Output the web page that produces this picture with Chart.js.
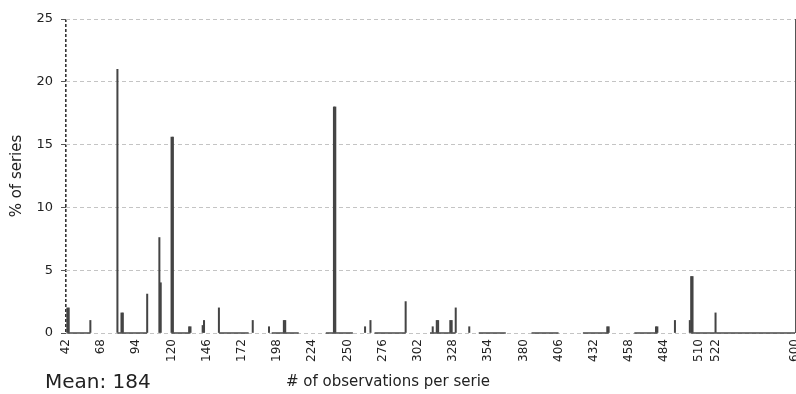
<!DOCTYPE html>
<html>
<head>
<meta charset="utf-8">
<script src="https://cdn.jsdelivr.net/npm/chart.js@4.4.0/dist/chart.umd.min.js"></script>
<style>
  html, body { margin: 0; padding: 0; background: #fff; }
  canvas { display: block; }
</style>
</head>
<body>
<canvas id="histo" width="796" height="394"></canvas>
<script>
// observações por série -> % de séries
const obsCounts = [43, 44, 60, 80, 83, 84, 102, 111, 112, 120, 121, 133, 134, 143, 144, 155, 180, 192, 203, 204,
                   240, 241, 263, 267, 293, 313, 316, 317, 326, 327, 330, 340, 442, 443, 478, 479, 492, 503, 504, 505, 522];
const pctSeries = [2.0, 2.0, 1.0, 21.0, 1.6, 1.6, 3.1, 7.6, 4.0, 15.6, 15.6, 0.5, 0.5, 0.6, 1.0, 2.0, 1.0, 0.5, 1.0, 1.0,
                   18.0, 18.0, 0.5, 1.0, 2.5, 0.5, 1.0, 1.0, 1.0, 1.0, 2.0, 0.5, 0.5, 0.5, 0.5, 0.5, 1.0, 1.0, 4.5, 4.5, 1.6];

// trechos em zero desenhados na linha de base
const zeroRunStart = [43, 80, 120, 155, 194, 234, 270, 311, 347, 386, 424, 462, 504, 522];
const zeroRunEnd   = [60, 102, 134, 177, 214, 254, 293, 330, 367, 406, 443, 479, 522, 600];

const xTicks = [42, 68, 94, 120, 146, 172, 198, 224, 250, 276, 302, 328, 354, 380, 406, 432, 458, 484, 510, 522, 600];
const yTicks = [0, 5, 10, 15, 20, 25];

const xTitle = '# of observations per serie';
const yTitle = '% of series';
const meanLabel = 'Mean: 184';

// eixo linear com a cauda (depois do breakValue) comprimida
class BrokenLinearScale extends Chart.LinearScale {
  getPixelForValue(value) {
    const b = this.options.breakValue, f = this.options.breakFraction;
    const d = value <= b
      ? (value - this.min) / (b - this.min) * f
      : f + (value - b) / (this.max - b) * (1 - f);
    return this.getPixelForDecimal(d);
  }
  getValueForPixel(pixel) {
    const b = this.options.breakValue, f = this.options.breakFraction;
    const d = this.getDecimalForPixel(pixel);
    return d <= f ? this.min + d / f * (b - this.min) : b + (d - f) / (1 - f) * (this.max - b);
  }
}
BrokenLinearScale.id = 'brokenLinear';
BrokenLinearScale.defaults = Chart.LinearScale.defaults;
Chart.register(BrokenLinearScale);

const spikes = obsCounts.map((x, i) => ({ x, y: pctSeries[i] }));
const baseline = [];
zeroRunStart.forEach((s, i) => {
  baseline.push({ x: s, y: 0 }, { x: zeroRunEnd[i], y: 0 }, { x: zeroRunEnd[i], y: null });
});

const FONT = "'DejaVu Sans', sans-serif";
const TXT = '#222';

const footerTexts = {
  id: 'footerTexts',
  afterDraw(chart) {
    const { ctx, chartArea } = chart;
    ctx.save();
    ctx.fillStyle = TXT;
    ctx.textBaseline = 'middle';
    ctx.font = "20px " + FONT;
    ctx.textAlign = 'left';
    ctx.fillText(meanLabel, chartArea.left - 21, 383);
    ctx.font = "15px " + FONT;
    ctx.textAlign = 'center';
    ctx.fillText(xTitle, chart.width / 2 - 10, 382);
    ctx.restore();
  }
};

new Chart(document.getElementById('histo').getContext('2d'), {
  data: {
    datasets: [
      { type: 'line', data: baseline, borderColor: '#4a4a4a', borderWidth: 1.5,
        pointRadius: 0, spanGaps: false, clip: false },
      { type: 'bar', data: spikes, backgroundColor: '#444', borderWidth: 0,
        barThickness: 1.35, grouped: false }
    ]
  },
  options: {
    responsive: false, animation: false, devicePixelRatio: 1,
    layout: { padding: { top: 19, right: 1, left: 0, bottom: 0 } },
    plugins: { legend: { display: false }, tooltip: { enabled: false } },
    scales: {
      x: {
        type: 'brokenLinear', min: 42, max: 600, offset: false,
        breakValue: 522, breakFraction: 0.891,
        afterBuildTicks: (s) => { s.ticks = xTicks.map(v => ({ value: v })); },
        afterFit: (s) => { s.height = 61; s.paddingLeft = 0; s.paddingRight = 0; },
        ticks: { autoSkip: false, minRotation: 90, maxRotation: 90, padding: 6,
                 color: TXT, font: { family: FONT, size: 12 }, callback: (v) => String(v) },
        grid: {
          offset: false,
          drawTicks: false,
          lineWidth: (c) => c.index === 0 ? 1.6 : 1,
          color: (c) => c.index === 0 ? '#333' : (c.index === xTicks.length - 1 ? '#555' : 'rgba(0,0,0,0)')
        },
        border: { display: false, dash: (c) => c.index === 0 ? [3, 2] : [] }
      },
      y: {
        min: 0, max: 25,
        afterBuildTicks: (s) => { s.ticks = yTicks.map(v => ({ value: v })); },
        afterFit: (s) => { s.width = 66; },
        ticks: { padding: 8, color: TXT, font: { family: FONT, size: 13 } },
        grid: { color: '#c4c4c4', tickColor: '#555', tickLength: 5 },
        border: { display: false, dash: [4, 3] },
        title: { display: true, text: yTitle, color: TXT, font: { family: FONT, size: 15 },
                 padding: { top: 8, bottom: 0 } }
      }
    }
  },
  plugins: [footerTexts]
});
</script>
</body>
</html>
